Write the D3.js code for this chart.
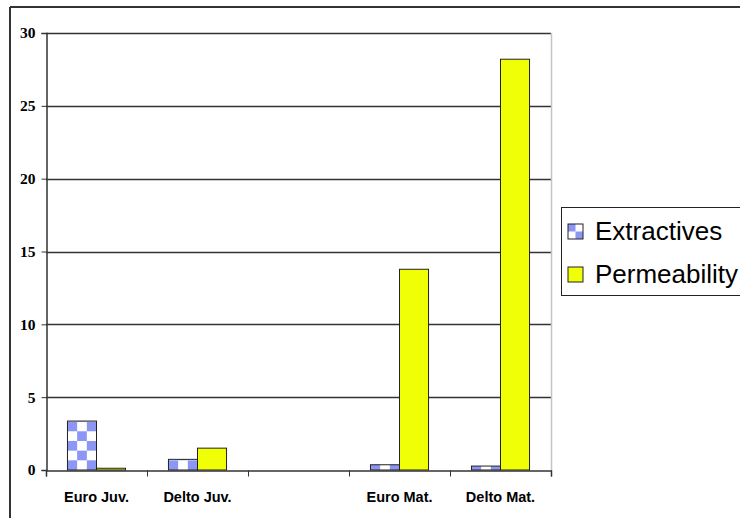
<!DOCTYPE html>
<html>
<head>
<meta charset="utf-8">
<script src="https://cdn.jsdelivr.net/npm/d3@7"></script>
<style>
  body { margin: 0; background: #fff; }
  svg { display: block; }
</style>
</head>
<body>
<div id="container"></div>
<script>
'use strict'

// data
const categories = ['Euro Juv.', 'Delto Juv.', '', 'Euro Mat.', 'Delto Mat.'];
const seriesNames = ['Extractives', 'Permeability'];
const extractives = [3.36, 0.73, null, 0.36, 0.27];
const permeability = [0.12, 1.5, null, 13.78, 28.2];
const yTicks = [0, 5, 10, 15, 20, 25, 30];

const w = 740, h = 518;
const plot = { left: 46, right: 551, top: 33, bottom: 470 };
const blue = '#8c96f5';

const svg = d3.select('#container').append('svg')
    .attr('width', w).attr('height', h);

const defs = svg.append('defs');

const xScale = d3.scaleBand()
    .domain(d3.range(categories.length))
    .range([plot.left, plot.right])
    .padding(0);

const bw = xScale.bandwidth();
const gap = bw * 0.425;
const x1 = d3.scaleBand()
    .domain(seriesNames)
    .range([gap / 2, bw - gap / 2])
    .padding(0);

const yScale = d3.scaleLinear()
    .domain([0, 30])
    .range([plot.bottom, plot.top]);

// checker pattern for Extractives (in the bar group's local space)
const cell = x1.bandwidth() / 3;
const pat = defs.append('pattern')
    .attr('id', 'checker')
    .attr('patternUnits', 'userSpaceOnUse')
    .attr('width', cell * 2).attr('height', cell * 2)
    .attr('x', x1('Extractives'))
    .attr('y', yScale(0));
pat.append('rect').attr('width', cell * 2).attr('height', cell * 2).attr('fill', '#fff');
pat.append('rect').attr('x', 0).attr('y', cell).attr('width', cell).attr('height', cell).attr('fill', blue);
pat.append('rect').attr('x', cell).attr('y', 0).attr('width', cell).attr('height', cell).attr('fill', blue);

const lp = defs.append('pattern')
    .attr('id', 'legchk')
    .attr('patternUnits', 'userSpaceOnUse')
    .attr('width', 15).attr('height', 15)
    .attr('x', 0).attr('y', 0);
lp.append('rect').attr('width', 15).attr('height', 15).attr('fill', '#fff');
lp.append('rect').attr('x', 0).attr('y', 0).attr('width', 7.5).attr('height', 7.5).attr('fill', blue);
lp.append('rect').attr('x', 7.5).attr('y', 7.5).attr('width', 7.5).attr('height', 7.5).attr('fill', blue);

const fills = { 'Extractives': 'url(#checker)', 'Permeability': '#f0ff05' };

// outer frame (top and left edges only visible)
svg.append('line')
    .attr('x1', 10).attr('x2', w).attr('y1', 7).attr('y2', 7)
    .attr('stroke', '#333').attr('stroke-width', 2);
svg.append('line')
    .attr('x1', 10).attr('x2', 10).attr('y1', 7).attr('y2', h)
    .attr('stroke', '#333').attr('stroke-width', 2);

// gridlines
svg.append('g')
    .selectAll('line')
    .data(yTicks.filter(d => d > 0))
    .enter().append('line')
    .attr('x1', plot.left).attr('x2', plot.right)
    .attr('y1', d => Math.round(yScale(d)) + 0.5)
    .attr('y2', d => Math.round(yScale(d)) + 0.5)
    .attr('stroke', '#333').attr('stroke-width', 1.3);

// right plot border
svg.append('line')
    .attr('x1', plot.right + 0.5).attr('x2', plot.right + 0.5)
    .attr('y1', plot.top).attr('y2', plot.bottom)
    .attr('stroke', '#c4c4c4').attr('stroke-width', 1.5);

// bars
const rows = categories.map((c, i) => ({ i: i, values: [extractives[i], permeability[i]] }));
const groups = svg.append('g').selectAll('g')
    .data(rows)
    .enter().append('g')
    .attr('transform', d => 'translate(' + xScale(d.i) + ',0)');

groups.selectAll('rect')
    .data(d => d.values.map((v, k) => ({ key: seriesNames[k], value: v })).filter(e => e.value != null))
    .enter().append('rect')
    .attr('x', d => x1(d.key))
    .attr('y', d => yScale(d.value))
    .attr('width', x1.bandwidth())
    .attr('height', d => yScale(0) - yScale(d.value))
    .attr('fill', d => fills[d.key])
    .attr('stroke', '#222').attr('stroke-width', 1);

// y axis
const yAxis = d3.axisLeft(yScale).tickValues(yTicks).tickSize(5).tickPadding(6);
const gy = svg.append('g')
    .attr('transform', 'translate(' + (plot.left + 0.5) + ',0)')
    .call(yAxis);
gy.select('.domain').attr('stroke', '#333').attr('stroke-width', 1.5);
gy.selectAll('.tick line').attr('stroke', '#333');
gy.selectAll('.tick text')
    .attr('font-family', '"Liberation Serif", "Times New Roman", serif')
    .attr('font-weight', 'bold').attr('font-size', '15.5px').attr('fill', '#000');

// x axis with ticks on category boundaries
const xAxisScale = d3.scaleLinear().domain([0, categories.length]).range([plot.left, plot.right]);
const xAxis = d3.axisBottom(xAxisScale).ticks(categories.length).tickSize(6).tickFormat('');
const gx = svg.append('g')
    .attr('transform', 'translate(0,' + (plot.bottom + 0.5) + ')')
    .call(xAxis);
gx.select('.domain').attr('stroke', '#333').attr('stroke-width', 1.5);
gx.selectAll('.tick line').attr('stroke', '#333');

svg.append('g').selectAll('text')
    .data(categories)
    .enter().append('text')
    .attr('x', (d, i) => xScale(i) + bw / 2)
    .attr('y', 502)
    .attr('text-anchor', 'middle')
    .attr('font-family', '"Liberation Sans", Arial, sans-serif')
    .attr('font-weight', 'bold').attr('font-size', '14.5px')
    .text(d => d);

// legend
const legend = svg.append('g');
legend.append('rect')
    .attr('x', 561.5).attr('y', 207.5).attr('width', 200).attr('height', 88)
    .attr('fill', '#fff').attr('stroke', '#222').attr('stroke-width', 1);

const legItems = legend.selectAll('g.item')
    .data(seriesNames)
    .enter().append('g')
    .attr('class', 'item')
    .attr('transform', (d, i) => 'translate(568,' + (224 + i * 43) + ')');

legItems.append('rect')
    .attr('width', 15).attr('height', 15)
    .attr('fill', d => d === 'Extractives' ? 'url(#legchk)' : fills[d])
    .attr('stroke', '#222').attr('stroke-width', 1);

legItems.append('text')
    .attr('x', 27).attr('y', 16)
    .attr('font-family', '"Liberation Sans", Arial, sans-serif')
    .attr('font-size', '26px')
    .text(d => d);
</script>
</body>
</html>
